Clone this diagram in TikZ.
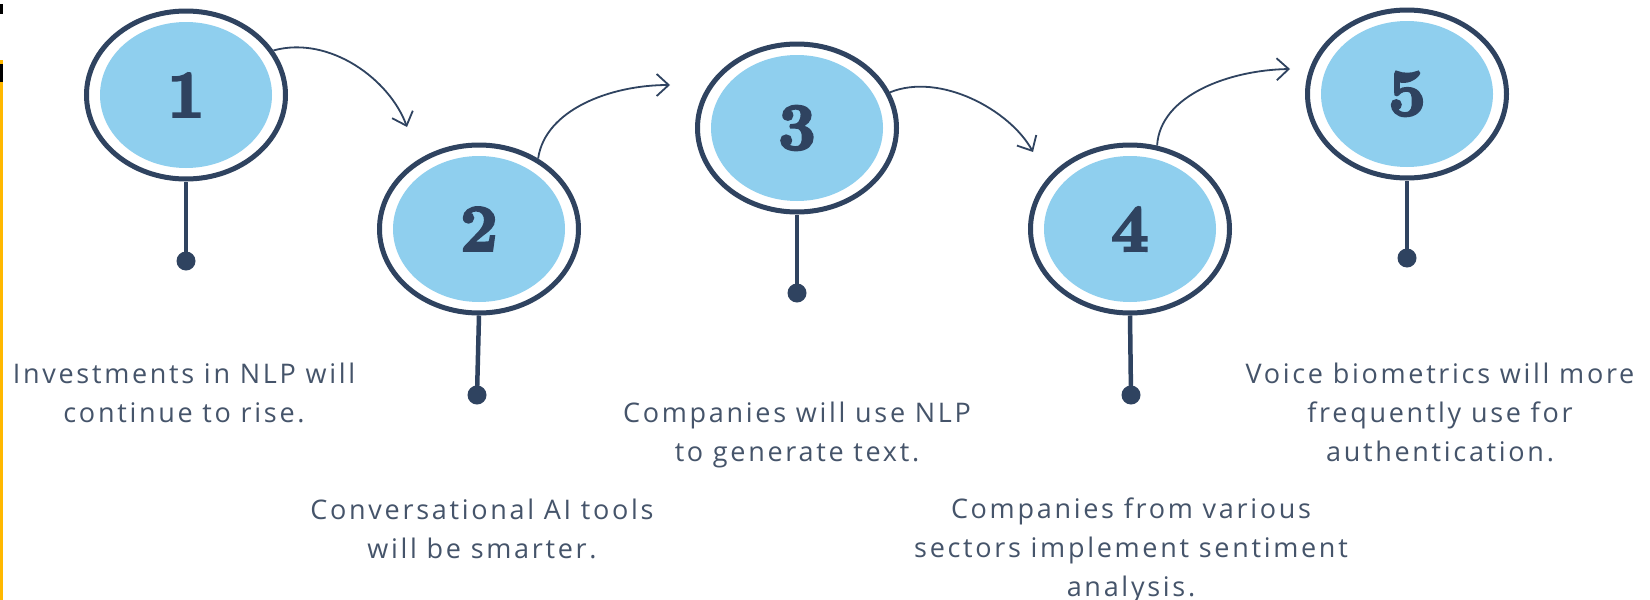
\documentclass[tikz,border=0pt]{standalone}
\usepackage{fontspec}
\newfontfamily\txtfont[LetterSpace=10]{Open Sans}
\newfontfamily\numfont[BoldFeatures={FakeBold=4}]{Latin Modern Roman}
\usetikzlibrary{arrows.meta,shapes.geometric}
\definecolor{navy}{HTML}{2F4360}
\definecolor{sky}{HTML}{8FCFEE}
\definecolor{txtc}{HTML}{45546A}
\definecolor{edgey}{HTML}{FFB800}
\begin{document}
\begin{tikzpicture}[x=1pt,y=-1pt,
  ring/.style={ellipse, draw=navy, line width=5pt, minimum width=199pt, minimum height=168pt, inner sep=0pt},
  disc/.style={ellipse, fill=sky, minimum width=172pt, minimum height=146pt, inner sep=0pt,
    text=navy, font=\numfont\bfseries\fontsize{66}{66}\selectfont},
  pin/.style={circle, fill=navy, minimum size=19pt, inner sep=0pt},
  stem/.style={draw=navy, line width=4.5pt},
  flow/.style={draw=navy, line width=1.8pt, -{Straight Barb[length=12pt,width=22pt,line width=1.8pt]}},
  label/.style={align=center, text=txtc, font=\txtfont\fontsize{27}{39}\selectfont, inner sep=0pt}]
\fill[white] (0,0) rectangle (1650,600);
\useasboundingbox (0,0) rectangle (1650,600);
\fill[edgey] (0,60) rectangle (2.5,600);
\fill[black] (0,4) rectangle (3,14);
\fill[black] (0,64) rectangle (3,82);

% circles
\node[ring] (c1) at (186,95) {};
\node[disc] (n1) at (186,95) {1};
\node[ring] (c2) at (479,229) {};
\node[disc] (n2) at (479,229) {2};
\node[ring] (c3) at (797,128) {};
\node[disc] (n3) at (797,128) {3};
\node[ring] (c4) at (1130,229) {};
\node[disc] (n4) at (1130,229) {4};
\node[ring] (c5) at (1407,94) {};
\node[disc] (n5) at (1407,94) {5};

% pins
\node[pin] (d1) at (186,261) {};
\node[pin] (d2) at (477,395) {};
\node[pin] (d3) at (797,293) {};
\node[pin] (d4) at (1131,395) {};
\node[pin] (d5) at (1407,258) {};
\draw[stem] (c1.south) -- (d1.center);
\draw[stem] (c2.south) -- (d2.center);
\draw[stem] (c3.south) -- (d3.center);
\draw[stem] (c4.south) -- (d4.center);
\draw[stem] (c5.south) -- (d5.center);

% arrows
\coordinate (e1) at (407,127);
\coordinate (e2) at (670,85);
\coordinate (e3) at (1033,152);
\coordinate (e4) at (1290,69);
\draw[flow] (c1.27) .. controls (330,35) and (390,80) .. (e1);
\draw[flow] (c2.50) .. controls (545,110) and (610,85) .. (e2);
\draw[flow] (c3.21) .. controls (940,72) and (1010,110) .. (e3);
\draw[flow] (c4.72) .. controls (1160,95) and (1230,70) .. (e4);

% labels
\node[label] (t1) at (184,393) {Investments in NLP will\\continue to rise.};
\node[label] (t2) at (482,529) {Conversational AI tools\\will be smarter.};
\node[label] (t3) at (797,435) {Companies will use NLP\\to generate text.};
\node[label] (t4) at (1131,550) {Companies from various\\sectors implement sentiment\\analysis.};
\node[label] (t5) at (1440,412) {Voice biometrics will more\\frequently use for\\authentication.};
\end{tikzpicture}
\end{document}
